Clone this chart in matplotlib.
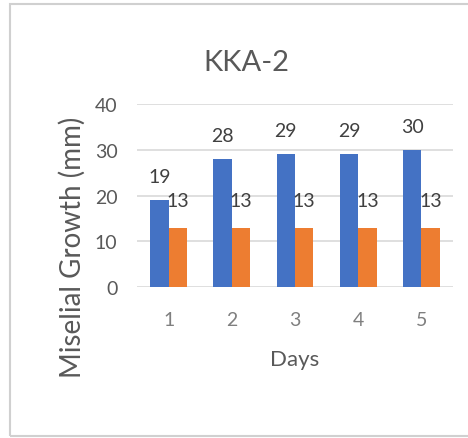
import matplotlib.pyplot as plt
import numpy as np
from matplotlib.patches import Rectangle

# datos
dias = ['1', '2', '3', '4', '5']
serie_azul = [19, 28, 29, 29, 30]
serie_naranja = [13, 13, 13, 13, 13]

plt.rcParams['font.family'] = ['Lato', 'DejaVu Sans']

fig = plt.figure(figsize=(4.68, 4.39), dpi=100)
fig.patch.set_facecolor('white')

# marco del grafico
fig.patches.append(Rectangle((10/468, 2/439), 470/468, 432/439, transform=fig.transFigure,
                             fill=False, edgecolor='#d0d0d0', linewidth=1.5))

ax = fig.add_axes([137/468, 1-288/439, 316/468, 183/439])
x = np.arange(len(dias))
w = 0.29
ax.bar(x - w/2, serie_azul, w, color='#4472C4', zorder=2)
ax.bar(x + w/2, serie_naranja, w, color='#ED7D31', zorder=2)

for i in range(len(dias)):
    ax.text(x[i] - w/2, serie_azul[i] + 3.3, str(serie_azul[i]), ha='center', va='bottom',
            fontsize=14, color='#404040')
    ax.text(x[i] + w/2, serie_naranja[i] + 6.0, str(serie_naranja[i]), ha='center', va='center',
            fontsize=14, color='#404040')

ax.set_ylim(0, 40)
ax.set_xlim(-0.5, 4.5)
ax.set_yticks([0, 10, 20, 30, 40])
ax.set_xticks(x)
ax.set_xticklabels(dias)
ax.grid(axis='y', color='#d9d9d9', linewidth=1.2, zorder=0)
for s in ax.spines.values():
    s.set_visible(False)
ax.tick_params(length=0, labelsize=14)
ax.tick_params(axis='y', pad=14, colors='#595959')
ax.tick_params(axis='x', pad=17, colors='#7f7f7f')

fig.text(246/468, 1-63/439, 'KKA-2', ha='center', va='center', fontsize=21, color='#595959')
fig.text(72/468, 1-247/439, 'Miselial Growth (mm)', ha='center', va='center', rotation=90,
         fontsize=20, color='#595959')
fig.text(295/468, 1-360/439, 'Days', ha='center', va='center', fontsize=16, color='#595959')

plt.savefig('out.png', dpi=100)
